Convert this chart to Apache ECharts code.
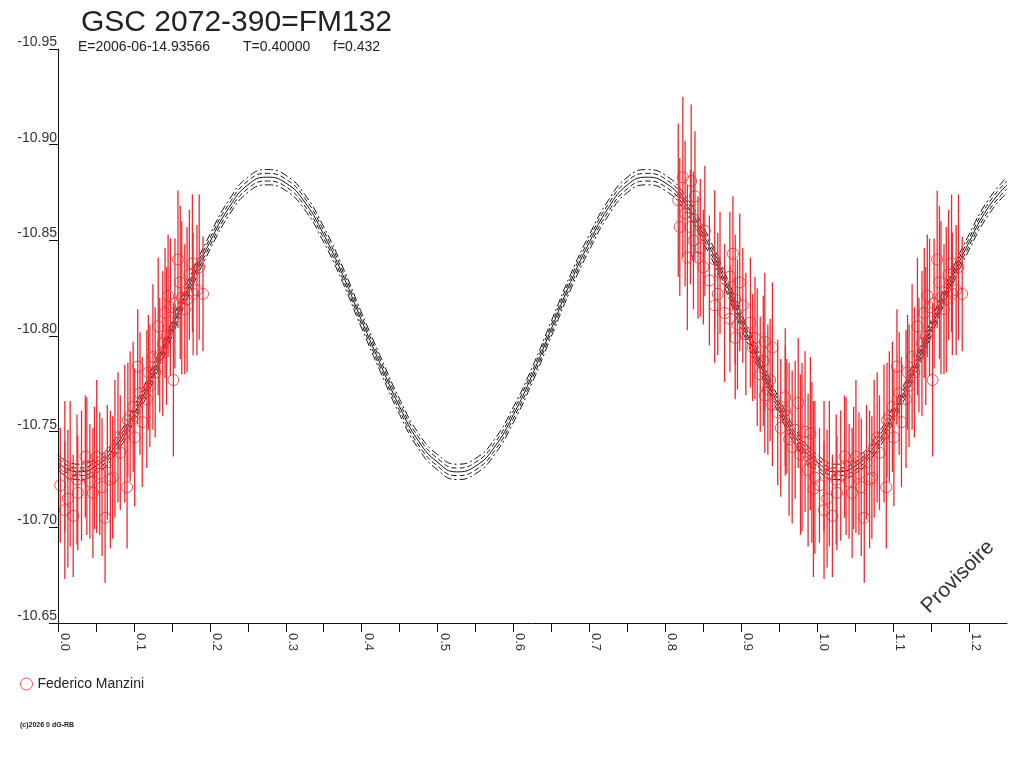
<!DOCTYPE html>
<html>
<head>
<meta charset="utf-8">
<script src="https://cdn.jsdelivr.net/npm/echarts@6/dist/echarts.min.js"></script>
<style>
    html, body { margin:0; padding:0; background:#fff; }
    #myChart { width:1024px; height:768px; }
</style>
</head>
<body>
<div id="myChart"></div>
<script>
// fitted light curve, one value every 0.025 in phase (0 .. 1.25)
var fitPhase = [0,0.025,0.05,0.075,0.1,0.125,0.15,0.175,0.2,0.225,0.25,0.275,0.3,0.325,0.35,0.375,0.4,0.425,0.45,0.475,
    0.5,0.525,0.55,0.575,0.6,0.625,0.65,0.675,0.7,0.725,0.75,0.775,0.8,0.825,0.85,0.875,0.9,0.925,0.95,0.975,
    1.0,1.025,1.05,1.075,1.1,1.125,1.15,1.175,1.2,1.225,1.25];
var fitMag = [-10.734,-10.729,-10.732,-10.742,-10.759,-10.780,-10.804,-10.828,-10.849,-10.867,-10.879,-10.883,-10.880,-10.870,-10.853,-10.832,-10.808,-10.785,-10.763,-10.745,
    -10.734,-10.729,-10.732,-10.742,-10.759,-10.780,-10.804,-10.828,-10.849,-10.867,-10.879,-10.883,-10.880,-10.870,-10.853,-10.832,-10.808,-10.785,-10.763,-10.745,
    -10.734,-10.729,-10.732,-10.742,-10.759,-10.780,-10.804,-10.828,-10.849,-10.867,-10.879];
var innerBand = 0.002;
var outerBand = 0.004;

// observations (phase, magnitude, error)
var obsPhase = [0.817,0.819,0.823,0.829,0.833,0.834,0.839,0.843,0.846,0.850,0.852,0.865,0.865,0.872,0.885,0.885,0.889,0.892,0.892,0.898,
    0.902,0.912,0.915,0.918,0.925,0.929,0.931,0.938,0.941,0.931,0.941,0.958,0.958,0.960,0.967,0.971,0.975,0.984,0.980,0.991,0.993,0.995,0.988,
    0.826,0.837,0.858,0.869,0.878,0.895,0.906,0.921,0.935,0.948,0.952,0.963,0.978,0.997,
    0.003,0.009,0.009,0.020,0.016,0.026,0.025,0.036,0.038,0.042,0.046,0.051,0.055,0.058,0.062,0.065,0.069,0.072,0.079,0.082,
    0.088,0.091,0.092,0.099,0.101,0.105,0.108,0.111,0.117,0.119,0.121,0.128,0.132,0.134,0.138,0.141,0.145,0.148,0.152,0.154,
    0.158,0.163,0.167,0.170,0.177,0.178,0.183,0.191,
    0.013,0.031,0.048,0.075,0.095,0.125,0.143,0.161,0.173,0.186];
var obsMag = [-10.871,-10.857,-10.883,-10.841,-10.857,-10.881,-10.873,-10.841,-10.846,-10.836,-10.855,-10.840,-10.816,-10.833,-10.831,-10.809,-10.843,-10.819,-10.799,-10.828,
    -10.816,-10.807,-10.794,-10.799,-10.780,-10.787,-10.797,-10.777,-10.794,-10.769,-10.764,-10.768,-10.761,-10.758,-10.742,-10.751,-10.765,-10.750,-10.742,-10.749,-10.734,-10.720,-10.730,
    -10.864,-10.850,-10.829,-10.822,-10.812,-10.806,-10.801,-10.789,-10.772,-10.760,-10.752,-10.746,-10.738,-10.726,
    -10.722,-10.732,-10.709,-10.706,-10.728,-10.718,-10.725,-10.737,-10.732,-10.724,-10.718,-10.737,-10.728,-10.721,-10.705,-10.734,-10.725,-10.726,-10.747,-10.739,
    -10.749,-10.721,-10.756,-10.763,-10.747,-10.784,-10.770,-10.755,-10.767,-10.781,-10.774,-10.781,-10.805,-10.790,-10.796,-10.812,-10.821,-10.815,-10.777,-10.817,
    -10.840,-10.820,-10.814,-10.819,-10.838,-10.822,-10.824,-10.822,
    -10.715,-10.727,-10.731,-10.741,-10.758,-10.789,-10.800,-10.828,-10.832,-10.836];
var obsErr = [0.040,0.036,0.042,0.038,0.030,0.040,0.034,0.032,0.036,0.030,0.034,0.036,0.030,0.032,0.034,0.028,0.030,0.034,0.032,0.036,
    0.030,0.034,0.028,0.032,0.030,0.034,0.036,0.032,0.034,0.030,0.032,0.036,0.034,0.030,0.040,0.036,0.034,0.042,0.044,0.040,0.042,0.046,0.040,
    0.038,0.036,0.034,0.032,0.036,0.034,0.032,0.036,0.034,0.038,0.036,0.040,0.042,0.040,
    0.030,0.034,0.036,0.032,0.038,0.030,0.034,0.032,0.036,0.030,0.034,0.040,0.032,0.036,0.034,0.030,0.036,0.032,0.034,0.030,
    0.036,0.032,0.030,0.034,0.036,0.030,0.032,0.034,0.036,0.030,0.032,0.034,0.036,0.030,0.038,0.034,0.032,0.036,0.040,0.034,
    0.036,0.040,0.034,0.038,0.036,0.032,0.034,0.030,
    0.036,0.034,0.032,0.036,0.034,0.038,0.036,0.040,0.034,0.038];
var observer = 'Federico Manzini';

var xTicks = {min:0, max:1.25, step:0.05};
var yTicks = {min:-10.95, max:-10.65, step:0.05};

var red = '#ee2a30';
var font = 'Liberation Sans, Arial, sans-serif';

// phases below 0.25 are drawn a second time one cycle later
var obsPoints = [];
for (var i = 0; i < obsPhase.length; i++) {
    obsPoints.push([obsPhase[i], obsMag[i], obsErr[i]]);
    if (obsPhase[i] < 0.25) {
        obsPoints.push([obsPhase[i] + 1, obsMag[i], obsErr[i]]);
    }
}

function curve(offset) {
    return fitPhase.map(function (p, i) { return [p, fitMag[i] + offset]; });
}

function fitLine(name, offset, type) {
    return {
        name: name,
        type: 'line',
        data: curve(offset),
        smooth: 0.5,
        showSymbol: false,
        silent: true,
        z: 2,
        lineStyle: { color: '#111', width: 1, type: type }
    };
}

var chart = echarts.init(document.getElementById('myChart'), null, { renderer: 'canvas' });
chart.setOption({
    animation: false,
    backgroundColor: '#fff',
    title: {
        text: 'GSC 2072-390=FM132',
        left: 76,
        top: 3,
        textStyle: { fontFamily: font, fontSize: 30, fontWeight: 'normal', color: '#222' }
    },
    legend: {
        data: [{
            name: observer,
            icon: 'circle',
            itemStyle: { color: 'rgba(0,0,0,0)', borderColor: red, borderWidth: 1 }
        }],
        left: 15,
        top: 672,
        itemWidth: 12,
        itemHeight: 12,
        itemGap: 4,
        textStyle: { fontFamily: font, fontSize: 14, color: '#222' }
    },
    grid: {
        left: 58,
        right: 17,
        top: 49,
        bottom: 145,
        containLabel: false,
        outerBoundsMode: 'none'
    },
    xAxis: {
        type: 'value',
        min: xTicks.min,
        max: xTicks.max,
        interval: xTicks.step,
        splitLine: { show: false },
        axisLine: { onZero: false, lineStyle: { color: '#111', width: 1 } },
        axisTick: { inside: false, length: 9, lineStyle: { color: '#111' } },
        axisLabel: {
            rotate: -90,
            margin: 10,
            verticalAlign: 'bottom',
            showMaxLabel: false,
            fontFamily: font,
            fontSize: 13,
            color: '#333',
            formatter: function (v) {
                var k = Math.round(v * 100);
                return k % 10 === 0 ? (k / 100).toFixed(1) : '';
            }
        }
    },
    yAxis: {
        type: 'value',
        inverse: true,
        min: yTicks.min,
        max: yTicks.max,
        interval: yTicks.step,
        splitLine: { show: false },
        axisLine: { onZero: false, lineStyle: { color: '#111', width: 1 } },
        axisTick: { inside: false, length: 9, lineStyle: { color: '#111' } },
        axisLabel: {
            margin: 1,
            verticalAlign: 'bottom',
            showMinLabel: true,
            showMaxLabel: true,
            fontFamily: font,
            fontSize: 14,
            color: '#333',
            formatter: function (v) { return v.toFixed(2); }
        }
    },
    graphic: [
        { type: 'text', left: 78, top: 40, style: { text: 'E=2006-06-14.93566', fontFamily: font, fontSize: 14, fill: '#222' } },
        { type: 'text', left: 243, top: 40, style: { text: 'T=0.40000', fontFamily: font, fontSize: 14, fill: '#222' } },
        { type: 'text', left: 333, top: 40, style: { text: 'f=0.432', fontFamily: font, fontSize: 14, fill: '#222' } },
        { type: 'text', left: 20, top: 722, style: { text: '(c)2026 0 dG-RB', fontFamily: font, fontSize: 7, fontWeight: 'bold', fill: '#222' } },
        {
            type: 'text', x: 958, y: 577, rotation: Math.PI / 4,
            style: { text: 'Provisoire', fontFamily: font, fontSize: 21, fill: '#333', align: 'center', verticalAlign: 'middle' }
        }
    ],
    series: [
        {
            name: 'errors',
            type: 'custom',
            silent: true,
            z: 6,
            data: obsPoints,
            encode: { x: 0, y: 1 },
            renderItem: function (params, api) {
                var p = api.value(0), m = api.value(1), e = api.value(2);
                var a = api.coord([p, m - e]);
                var b = api.coord([p, m + e]);
                return {
                    type: 'line',
                    shape: { x1: a[0], y1: a[1], x2: b[0], y2: b[1] },
                    style: { stroke: red, lineWidth: 1.3 }
                };
            }
        },
        {
            name: observer,
            type: 'scatter',
            z: 7,
            data: obsPoints,
            symbol: 'circle',
            symbolSize: 11,
            itemStyle: { color: 'rgba(0,0,0,0)', borderColor: red, borderWidth: 1 }
        },
        fitLine('outer+', -outerBand, [8, 3, 2, 3]),
        fitLine('inner+', -innerBand, [5, 3]),
        fitLine('fit', 0, 'solid'),
        fitLine('inner-', innerBand, [5, 3]),
        fitLine('outer-', outerBand, [8, 3, 2, 3])
    ]
});
</script>
</body>
</html>
